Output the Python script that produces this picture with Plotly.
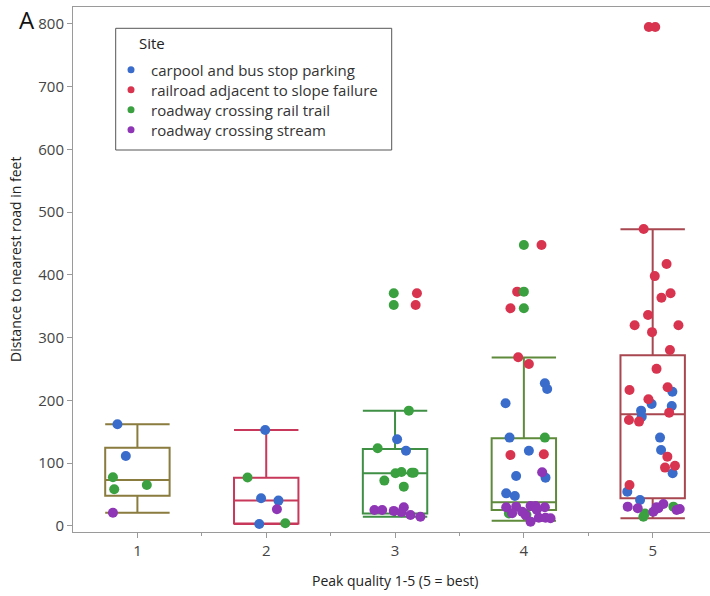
import plotly.graph_objects as go

# ---- box summaries per peak-quality group (feet) ----
quality_levels = [1, 2, 3, 4, 5]
box_lower = [21.2, 3.2, 14.8, 8.5, 12.3]
box_q1 = [48.3, 4.0, 20.0, 25.5, 44.0]
box_median = [73.3, 40.4, 84.0, 37.7, 178.0]
box_q3 = [124.8, 77.0, 122.7, 139.7, 272.0]
box_upper = [162.0, 153.0, 183.8, 268.3, 473.0]
box_colors = ["#8a7b3f", "#c8385a", "#3f8f45", "#5f8a3c", "#a8474f"]

# ---- sites ----
site_names = [
    "carpool and bus stop parking",
    "railroad adjacent to slope failure",
    "roadway crossing rail trail",
    "roadway crossing stream",
]
site_colors = ["#3a6ccb", "#d9344f", "#3aa040", "#8e36b5"]

# ---- observations: quality, distance, horizontal jitter ----
carpool_quality = [1, 1, 2, 2, 2, 2, 3, 3,
                   4, 4, 4, 4, 4, 4, 4, 4, 4,
                   5, 5, 5, 5, 5, 5, 5, 5, 5, 5]
carpool_distance = [162, 111.5, 153, 44.1, 40.4, 3.2, 138.1, 120,
                    227.4, 218.3, 195.5, 140.8, 120, 79.7, 77, 52, 47.8,
                    214, 194.4, 183.8, 191.2, 174.2, 140.8, 121.1, 84, 54.7, 41.4]
carpool_jitter = [-0.155, -0.09, -0.008, -0.04, 0.095, -0.054, 0.016, 0.085,
                  0.163, 0.181, -0.142, -0.111, 0.039, -0.06, 0.168, -0.137, -0.07,
                  0.153, -0.008, -0.09, 0.148, -0.085, 0.057, 0.065, 0.155, -0.197, -0.098]

railroad_quality = [3, 3,
                    4, 4, 4, 4, 4, 4, 4,
                    5, 5, 5, 5, 5, 5, 5, 5, 5, 5, 5, 5, 5, 5, 5, 5, 5, 5, 5, 5, 5, 5, 5]
railroad_distance = [370.8, 352,
                     447.8, 373.4, 346.9, 268.8, 258.2, 113, 114.2,
                     795, 795, 473.3, 417.4, 398.2, 370.9, 363.7, 336.3, 319.8, 319.8,
                     308.9, 280.5, 250.4, 216.7, 221, 201.9, 180.6, 168.9, 166.3,
                     110.5, 93, 96.1, 65.3]
railroad_jitter = [0.17, 0.16,
                   0.137, -0.052, -0.104, -0.044, 0.039, -0.104, 0.155,
                   -0.03, 0.02, -0.07, 0.108, 0.016, 0.139, 0.068, -0.036, -0.14, 0.2,
                   -0.005, 0.134, 0.03, -0.18, 0.116, -0.033, 0.128, -0.184, -0.106,
                   0.114, 0.096, 0.173, -0.18]

trail_quality = [1, 1, 1, 2, 2,
                 3, 3, 3, 3, 3, 3, 3, 3, 3, 3,
                 4, 4, 4, 4, 4, 4,
                 5, 5, 5]
trail_distance = [77.6, 58.5, 65.3, 77.3, 4.3,
                  370.8, 352, 183.8, 123.8, 84, 86, 85, 85, 72.3, 62.7,
                  447.8, 373.4, 346.9, 140.8, 20, 18,
                  14.8, 30.8, 20]
trail_jitter = [-0.19, -0.18, 0.073, -0.145, 0.148,
                -0.01, -0.01, 0.107, -0.135, 0.003, 0.05, 0.13, 0.145, -0.083, 0.068,
                0.0, 0.0, 0.0, 0.163, -0.116, 0.02,
                -0.072, 0.161, -0.06]

stream_quality = [1, 2,
                  3, 3, 3, 3, 3, 3, 3,
                  4, 4, 4, 4, 4, 4, 4, 4, 4, 4, 4, 4, 4, 4,
                  5, 5, 5, 5, 5, 5, 5, 5]
stream_distance = [21, 26.6,
                   25.5, 25.5, 24, 29.7, 22, 17.5, 14.8,
                   85.6, 29.8, 30.8, 31.9, 31.9, 29.8, 20.2, 17.5, 13.2, 13.2, 6.9, 22.8, 12.3, 26,
                   30.8, 28.2, 28.2, 35, 22.8, 25.5, 27, 30]
stream_jitter = [-0.19, 0.083,
                 -0.16, -0.1, -0.01, 0.068, 0.05, 0.12, 0.197,
                 0.142, -0.137, -0.06, 0.052, 0.091, 0.163, -0.091, 0.013, 0.116, 0.168, 0.052, -0.013, 0.207, 0.1,
                 -0.194, -0.116, 0.044, 0.083, 0.005, 0.186, 0.21, 0.03]

site_series = [
    (carpool_quality, carpool_distance, carpool_jitter),
    (railroad_quality, railroad_distance, railroad_jitter),
    (trail_quality, trail_distance, trail_jitter),
    (stream_quality, stream_distance, stream_jitter),
]

FONT = "Open Sans"
AXIS_GREY = "#9a9a9a"
TEXT_GREY = "#444444"

# plot area in pixels: left 73, right 710, top 7, bottom 532
PL, PR, PT, PB = 73, 710, 7, 532
W, H = 710, 596


def px_x(x):
    return (x - PL) / (PR - PL)


def px_y(y):
    return (PB - y) / (PB - PT)


fig = go.Figure()

# one box per quality level, drawn from the summary statistics
for i, q in enumerate(quality_levels):
    fig.add_trace(go.Box(
        x=[q],
        q1=[box_q1[i]], median=[box_median[i]], q3=[box_q3[i]],
        lowerfence=[box_lower[i]], upperfence=[box_upper[i]],
        width=0.5, whiskerwidth=1,
        line=dict(color=box_colors[i], width=2),
        fillcolor="rgba(0,0,0,0)",
        boxpoints=False, hoverinfo="skip", showlegend=False,
    ))

# jittered observations, one trace per site
for name, color, (qual, dist, jit) in zip(site_names, site_colors, site_series):
    fig.add_trace(go.Scatter(
        x=[q + j for q, j in zip(qual, jit)],
        y=dist,
        mode="markers",
        name=name,
        showlegend=False,
        marker=dict(color=color, size=10, line=dict(width=0)),
    ))

# legend rows (small swatches), each row in its own legend box
legend_layout = {}
for k, (name, color) in enumerate(zip(site_names, site_colors)):
    legend_id = "legend" if k == 0 else f"legend{k + 1}"
    fig.add_trace(go.Scatter(
        x=[None], y=[None], mode="markers", name=name,
        legend=legend_id, showlegend=True, hoverinfo="skip",
        marker=dict(color=color, size=7, line=dict(width=0)),
    ))
    legend_layout[legend_id] = dict(
        x=px_x(111), y=px_y(70 + 20 * k), xanchor="left", yanchor="middle",
        bgcolor="rgba(0,0,0,0)", borderwidth=0,
        font=dict(family=FONT, size=15, color="#333333"),
        itemsizing="trace",
    )

fig.update_layout(
    width=W, height=H, autosize=False,
    margin=dict(l=PL, r=W - PR, t=PT, b=H - PB, pad=0),
    paper_bgcolor="white", plot_bgcolor="white",
    font=dict(family=FONT, size=15, color=TEXT_GREY),
    boxmode="overlay",
    showlegend=True,
    xaxis=dict(
        range=[0.5, 5.445], tickvals=quality_levels,
        ticks="outside", ticklen=5, tickcolor=AXIS_GREY,
        showline=True, linecolor=AXIS_GREY, linewidth=1, mirror=True,
        showgrid=False, zeroline=False,
        tickfont=dict(size=15, color=TEXT_GREY),
        minor=dict(tickvals=[1.5, 2.5, 3.5, 4.5], ticks="outside",
                   ticklen=3, tickcolor=AXIS_GREY, showgrid=False),
    ),
    yaxis=dict(
        range=[-9.6, 827], tickvals=list(range(0, 801, 100)),
        ticks="outside", ticklen=5, tickcolor=AXIS_GREY,
        showline=True, linecolor=AXIS_GREY, linewidth=1,
        showgrid=False, zeroline=False,
        tickfont=dict(size=15, color=TEXT_GREY),
    ),
    shapes=[dict(
        type="rect", xref="paper", yref="paper",
        x0=px_x(115.7), x1=px_x(391.7), y0=px_y(150), y1=px_y(28.3),
        line=dict(color="#555555", width=1), fillcolor="rgba(0,0,0,0)",
        layer="below",
    )],
    annotations=[
        dict(text="Site", xref="paper", yref="paper", x=px_x(137), y=px_y(43),
             xanchor="left", yanchor="middle", showarrow=False,
             font=dict(family=FONT, size=15, color="#222222")),
        dict(text="Peak quality 1-5 (5 = best)", xref="x", yref="paper",
             x=3, y=px_y(580), xanchor="center", yanchor="middle",
             showarrow=False, font=dict(family=FONT, size=14, color="#222222")),
        dict(text="Distance to nearest road in feet", xref="paper", yref="paper",
             x=px_x(15), y=px_y(260), xanchor="center", yanchor="middle",
             textangle=-90, showarrow=False,
             font=dict(family=FONT, size=14, color="#222222")),
        dict(text="A", xref="paper", yref="paper", x=px_x(27), y=px_y(19),
             xanchor="center", yanchor="middle", showarrow=False,
             font=dict(family=FONT, size=24, color="#111111")),
    ],
    **legend_layout,
)

fig.write_html("out.html")
